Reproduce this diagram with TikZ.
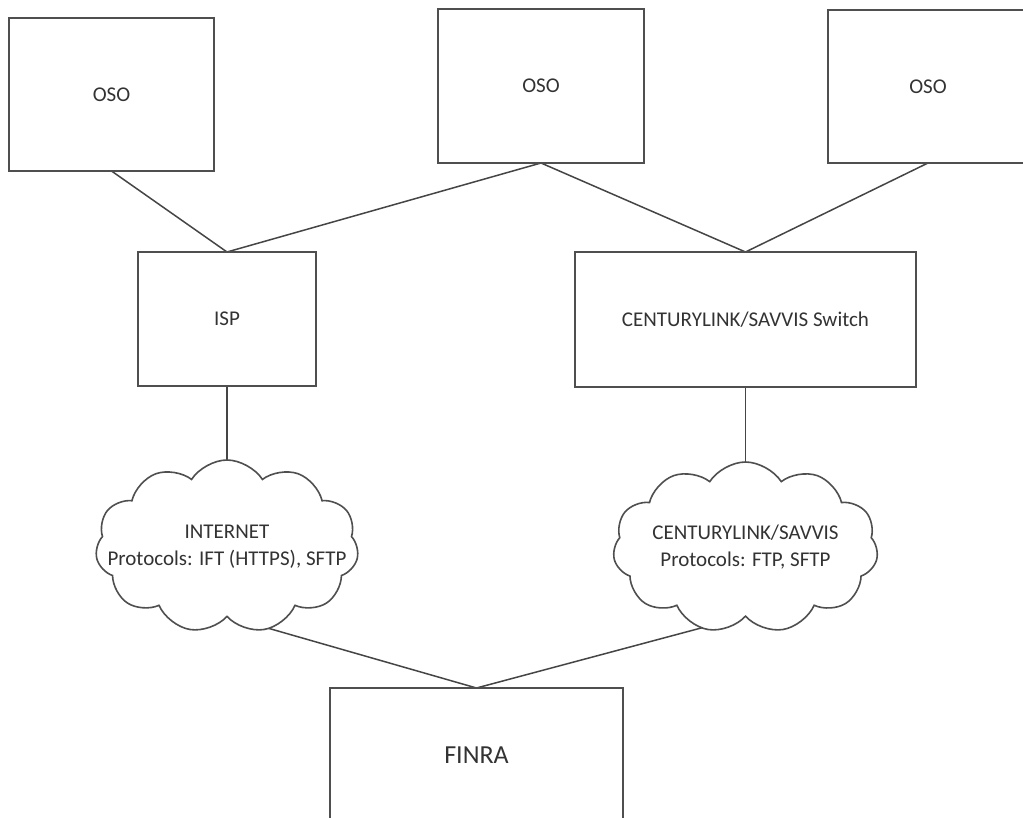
\documentclass[tikz,border=0pt]{standalone}
\usepackage{fontspec}
\setmainfont{Carlito}
\usepackage{tikz}
\usetikzlibrary{positioning}
\usetikzlibrary{shapes.symbols,backgrounds}

\definecolor{rim}{HTML}{4F4F4F}
\definecolor{wire}{HTML}{454545}
\definecolor{ink}{HTML}{333333}

\begin{document}
\begin{tikzpicture}[x=0.5pt,y=-0.5pt,
    box/.style={draw=rim,line width=1pt,inner sep=0pt,outer sep=0pt,text=ink,
                font=\fontsize{10.5}{13}\selectfont},
    net/.style={cloud,cloud puffs=11,cloud puff arc=115,cloud ignores aspect,
                draw=rim,line width=0.8pt,fill=white,inner ysep=0pt,outer sep=0pt,
                align=center,text=ink,font=\fontsize{10.5}{13.5}\selectfont},
    link/.style={draw=wire,line width=0.75pt}]
  \useasboundingbox (0,0) rectangle (1023,818);

  \node[box,minimum width=102.5pt,minimum height=76.5pt] (OSOleft)  at (111.5,94.5) {OSO};
  \node[box,minimum width=103pt,minimum height=77pt]     (OSOmid)   at (541,86)     {OSO};
  \node[box,minimum width=100pt,minimum height=76.5pt]   (OSOright) at (928,86.5)   {OSO};
  \node[box,minimum width=89pt,minimum height=67pt]      (ISP)      at (227,319)    {ISP};
  \node[box,minimum width=170.5pt,minimum height=67.5pt] (Switch)   at (745.5,319.5) {CENTURYLINK/SAVVIS Switch};

  \node[net,inner xsep=-17pt,minimum width=131.5pt,minimum height=86.5pt] (Internet) [below=37pt of ISP]
        {INTERNET\\Protocols: IFT (HTTPS), SFTP};
  \node[net,inner xsep=-1pt,minimum width=132.5pt,minimum height=85.5pt] (Savvis)   [below=37.5pt of Switch]
        {CENTURYLINK/SAVVIS\\Protocols: FTP, SFTP};

  \node[box,minimum width=146.5pt,minimum height=67pt,font=\fontsize{13}{16}\selectfont] (FINRA) at (476.5,755) {FINRA};

  \begin{scope}[on background layer]
  \path[link]
     (OSOleft.south) edge (ISP.north)
      (OSOmid.south) edge (ISP.north)
      (OSOmid.south) edge (Switch.north)
    (OSOright.south) edge (Switch.north)
         (ISP.south) edge (Internet.north)
      (Switch.south) edge (Savvis.north)
    (Internet.south) edge (FINRA.north)
      (Savvis.south) edge (FINRA.north);
  \end{scope}
\end{tikzpicture}
\end{document}
